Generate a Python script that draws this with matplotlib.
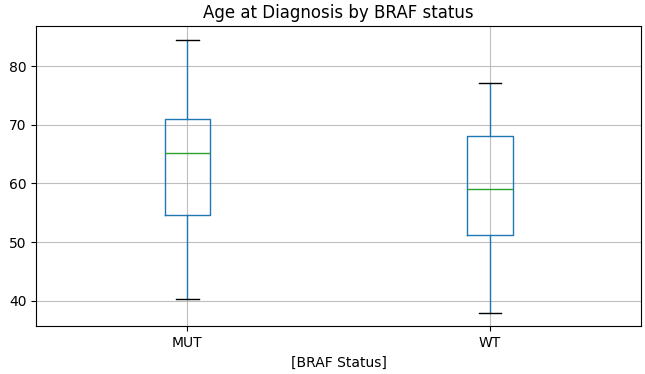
import matplotlib
matplotlib.use('Agg')
import matplotlib.pyplot as plt

# box stats (age in years)
groups = ['MUT', 'WT']
whislo = [40.4, 38.0]
q1 = [54.6, 51.3]
med = [65.2, 59.1]
q3 = [71.0, 68.1]
whishi = [84.5, 77.2]

stats = []
for i, g in enumerate(groups):
    stats.append(dict(label=g, whislo=whislo[i], q1=q1[i], med=med[i],
                      q3=q3[i], whishi=whishi[i], fliers=[]))

fig = plt.figure(figsize=(6.45, 3.74), dpi=100)
ax = fig.add_axes([0.056, 0.128, 0.938, 0.802])

ax.bxp(stats, positions=[1, 2], widths=0.15, showfliers=False,
       boxprops=dict(color='#1f77b4'),
       whiskerprops=dict(color='#1f77b4'),
       medianprops=dict(color='#2ca02c'),
       capprops=dict(color='black'))

ax.grid(True, color='#b0b0b0', linewidth=0.8, alpha=0.8)
ax.set_axisbelow(True)
ax.set_xlim(0.5, 2.5)
ax.set_ylim(35.7, 86.8)
ax.set_yticks([40, 50, 60, 70, 80])
ax.tick_params(labelsize=10)
ax.set_title('Age at Diagnosis by BRAF status', fontsize=12)
ax.set_xlabel('[BRAF Status]', fontsize=10)

fig.savefig('out.png', dpi=100)
